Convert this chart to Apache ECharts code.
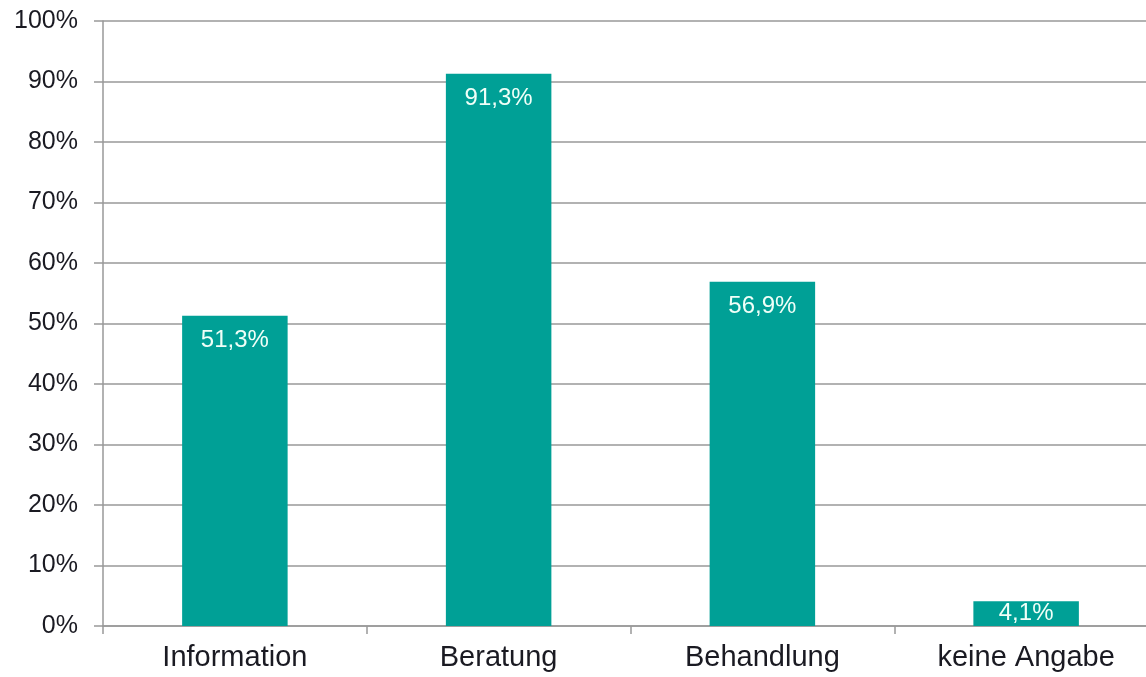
<!DOCTYPE html>
<html><head><meta charset="utf-8">
<script src="https://cdn.jsdelivr.net/npm/echarts@6/dist/echarts.min.js"></script>
<style>html,body{margin:0;padding:0;background:#fff;overflow:hidden;width:1146px;height:677px}#c{width:1158px;height:677px}</style>
</head><body><div id="c"></div>
<script>
const categories = ["Information", "Beratung", "Behandlung", "keine Angabe"];
const values = [51.3, 91.3, 56.9, 4.1];
const valueLabels = ["51,3%", "91,3%", "56,9%", "4,1%"];

const chart = echarts.init(document.getElementById('c'));
chart.setOption({
  animation: false,
  grid: {left: 103, right: 0, top: 21, bottom: 51},
  xAxis: {
    type: 'category', data: categories,
    axisLine: {lineStyle: {color: '#999', width: 1.5}},
    axisTick: {show: true, length: 8, lineStyle: {color: '#999', width: 1.5}},
    axisLabel: {fontFamily: 'Liberation Sans, Arial', fontSize: 29, color: '#1a1a22', margin: 17}
  },
  yAxis: {
    type: 'value', min: 0, max: 100, interval: 10,
    axisLine: {show: true, lineStyle: {color: '#999', width: 1.5}},
    axisTick: {show: true, length: 9, lineStyle: {color: '#999', width: 1.5}},
    splitLine: {lineStyle: {color: '#999', width: 1.5}},
    axisLabel: {formatter: '{value}%', fontFamily: 'Liberation Sans, Arial', fontSize: 25, color: '#1a1a22', margin: 25}
  },
  series: [{
    type: 'bar', barWidth: '40%',
    itemStyle: {color: '#00A096'},
    data: values.map((v, i) => ({
      value: v,
      label: {
        show: true,
        position: v < 10 ? 'inside' : 'insideTop',
        distance: 13,
        formatter: valueLabels[i],
        color: '#f0fff8', fontSize: 24, fontFamily: 'Liberation Sans, Arial'
      }
    }))
  }]
});
</script></body></html>
